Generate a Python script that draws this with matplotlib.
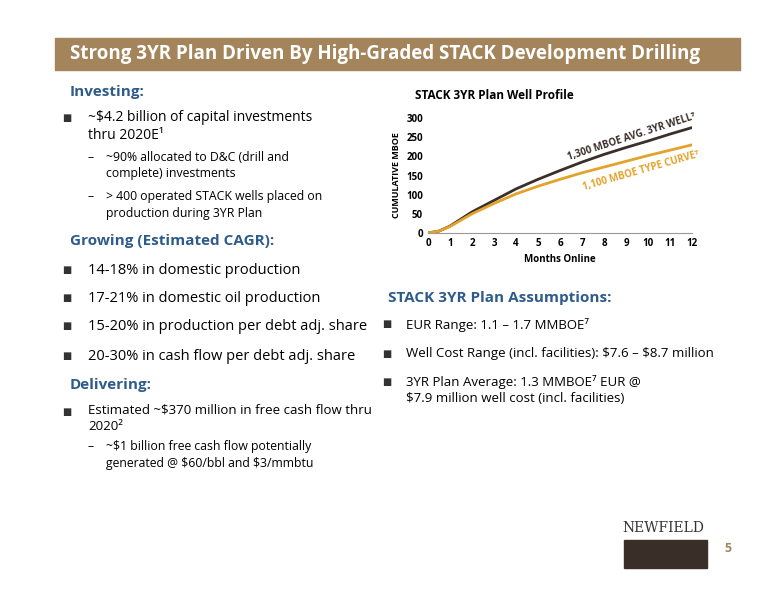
import matplotlib.pyplot as plt
from matplotlib.patches import Rectangle

months = [0, 0.5, 1, 2, 3, 4, 5, 6, 7, 8, 9, 10, 11, 12]
avg_3yr_well = [0, 5, 18, 55, 85, 115, 140, 163, 185, 205, 223, 240, 258, 275]
type_curve = [0, 5, 17, 50, 77, 102, 122, 140, 157, 172, 187, 202, 216, 230]
x_ticks = list(range(13))
y_ticks = [0, 50, 100, 150, 200, 250, 300]

W, H = 776, 600
BROWN = "#A4845A"
BLUE = "#2E5C8A"
DARK = "#3B2F2A"
GOLD = "#E3A32B"
plt.rcParams["font.family"] = ["Open Sans", "DejaVu Sans"]

fig = plt.figure(figsize=(7.76, 6), dpi=100)


def px(x, y):
    return x / W, 1 - y / H


def txt(x, y, s, **kw):
    fig.text(*px(x, y), s, va="center", **kw)


fig.patches.append(Rectangle(px(55, 70), 685 / W, 32 / H, transform=fig.transFigure,
                             color=BROWN))
txt(70, 54, "Strong 3YR Plan Driven By High-Graded STACK Development Drilling",
    color="white", fontsize=13.5, fontweight="bold")

# left column
txt(70, 92, "Investing:", color=BLUE, fontsize=11, fontweight="bold")
txt(62, 118, "■", fontsize=7, color="#333333")
fig.text(*px(88, 110), "~\\$4.2 billion of capital investments\nthru 2020E¹",
         va="top", fontsize=10, linespacing=1.3)
for y, s in [(166, "~90% allocated to D&C (drill and\ncomplete) investments"),
             (205, "> 400 operated STACK wells placed on\nproduction during 3YR Plan")]:
    txt(88, y - 8, "–", fontsize=8.8)
    fig.text(*px(106, y - 15), s, va="top", fontsize=8.8, linespacing=1.35)
txt(70, 241, "Growing (Estimated CAGR):", color=BLUE, fontsize=11, fontweight="bold")
for y, s in [(270, "14-18% in domestic production"),
             (299, "17-21% in domestic oil production"),
             (327, "15-20% in production per debt adj. share"),
             (356, "20-30% in cash flow per debt adj. share")]:
    txt(62, y, "■", fontsize=7, color="#333333")
    txt(88, y, s, fontsize=10.5)
txt(70, 385, "Delivering:", color=BLUE, fontsize=11, fontweight="bold")
txt(62, 412, "■", fontsize=7, color="#333333")
fig.text(*px(88, 404), "Estimated ~\\$370 million in free cash flow thru\n2020²",
         va="top", fontsize=9.5, linespacing=1.35)
txt(88, 447, "–", fontsize=8.8)
fig.text(*px(106, 440), "~\\$1 billion free cash flow potentially\ngenerated @ \\$60/bbl and \\$3/mmbtu",
         va="top", fontsize=8.8, linespacing=1.4)

# right column text
txt(388, 298, "STACK 3YR Plan Assumptions:", color=BLUE, fontsize=11, fontweight="bold")
for y, s in [(325, "EUR Range: 1.1 – 1.7 MMBOE⁷"),
             (354, "Well Cost Range (incl. facilities): \\$7.6 – \\$8.7 million")]:
    txt(382, y, "■", fontsize=7, color="#333333")
    txt(406, y, s, fontsize=9.5)
txt(382, 383, "■", fontsize=7, color="#333333")
fig.text(*px(406, 375), "3YR Plan Average: 1.3 MMBOE⁷ EUR @\n\\$7.9 million well cost (incl. facilities)",
         va="top", fontsize=9.5, linespacing=1.35)

# chart
ax = fig.add_axes([428 / W, 1 - 233 / H, 264 / W, 115 / H])
ax.plot(months, avg_3yr_well, color=DARK, lw=2)
ax.plot(months, type_curve, color=GOLD, lw=2)
ax.set_xlim(0, 12)
ax.set_ylim(0, 300)
ax.set_xticks(x_ticks)
ax.set_yticks(y_ticks)
ax.tick_params(labelsize=7, length=0)
for lab in ax.get_xticklabels() + ax.get_yticklabels():
    lab.set_fontweight("bold")
for s in ["top", "right", "left"]:
    ax.spines[s].set_visible(False)
ax.spines["bottom"].set_color("#999999")
ax.set_xlabel("Months Online", fontsize=7, fontweight="bold")
ax.set_ylabel("CUMULATIVE MBOE", fontsize=6.5, fontweight="bold", labelpad=4)
ax.set_title("STACK 3YR Plan Well Profile", fontsize=8.5, fontweight="bold",
             loc="left", x=-0.05, pad=14)
ax.text(6.3, 190, "1,300 MBOE AVG. 3YR WELL⁷", color=DARK, fontsize=7,
        fontweight="bold", rotation=18)
ax.text(7.0, 112, "1,100 MBOE TYPE CURVE⁷", color=GOLD, fontsize=7,
        fontweight="bold", rotation=16)

# logo and page number
txt(622, 528, "NEWFIELD", fontsize=10, family="DejaVu Serif", color="#333333")
fig.patches.append(Rectangle(px(624, 568), 83 / W, 28 / H, transform=fig.transFigure,
                             color="#3A2E28"))
txt(724, 548, "5", color=BROWN, fontsize=9, fontweight="bold")

fig.savefig("out.png", dpi=100)
